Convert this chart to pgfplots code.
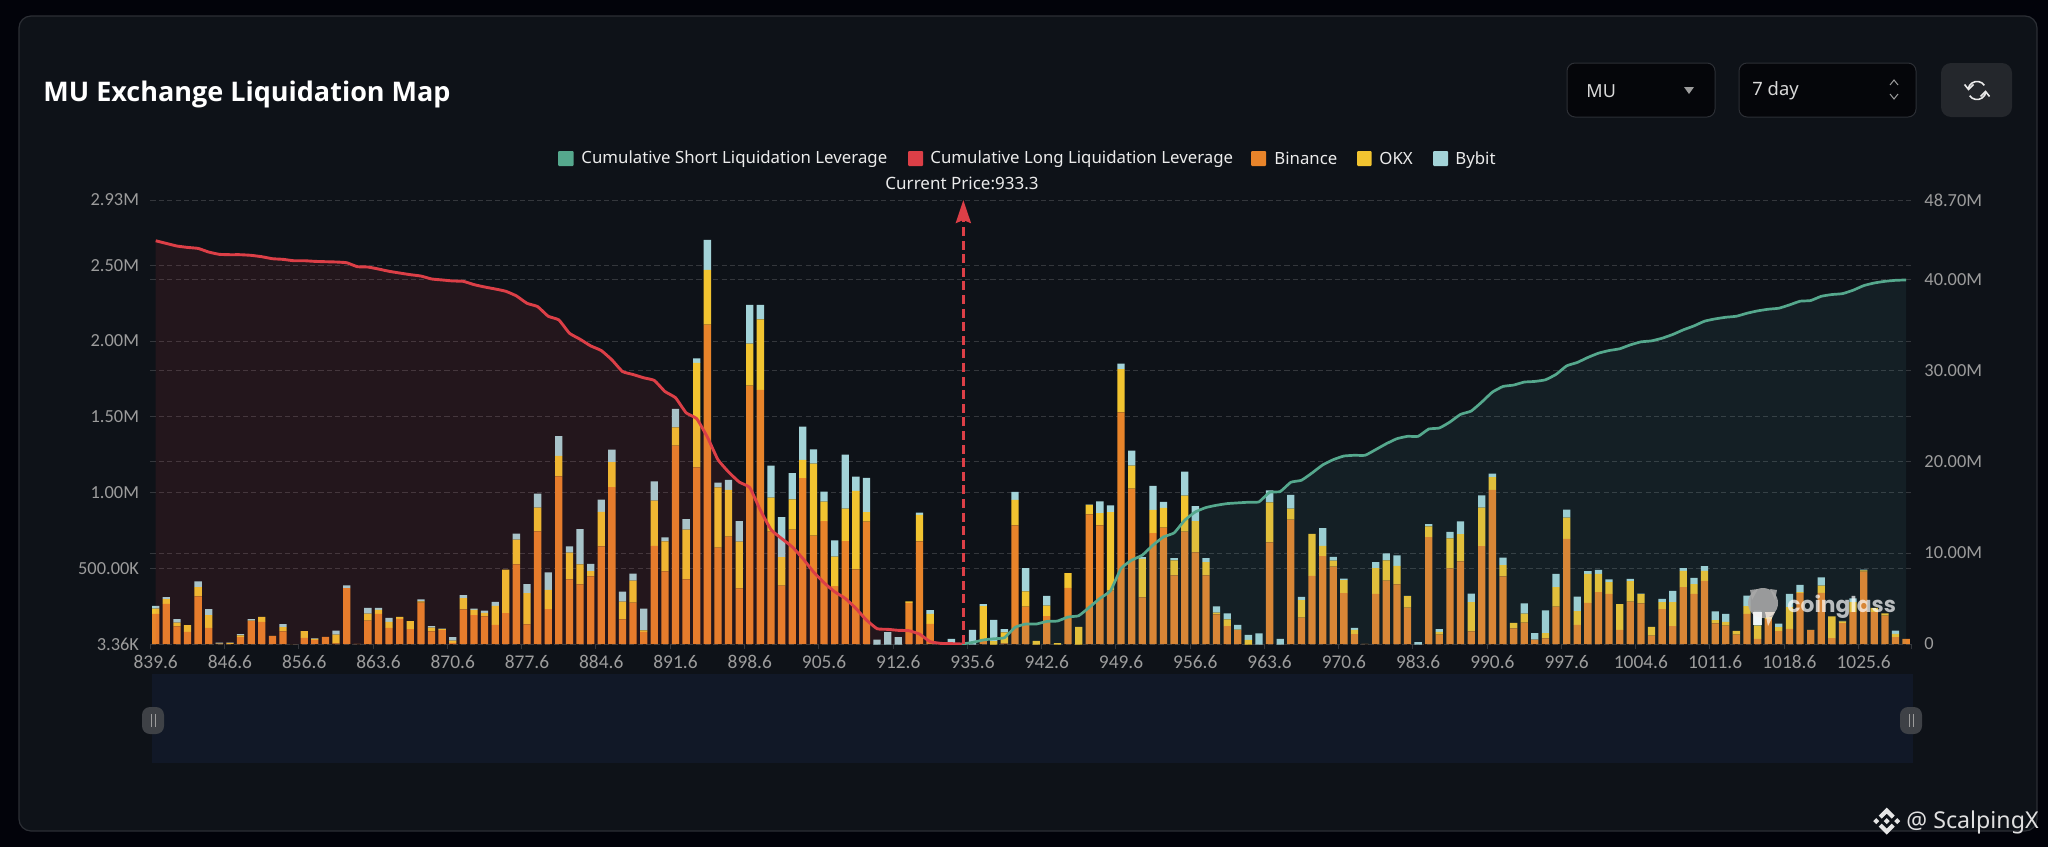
\documentclass[border=0pt]{standalone}
\usepackage{fontspec}
\usepackage{pgfplots}
\usepackage{pgfplotstable}
\pgfplotsset{compat=1.18}
\usetikzlibrary{arrows.meta}
\setmainfont{Noto Sans}
\newfontfamily\tickfont{Carlito}
\newfontfamily\wmfont{Poppins}
\newfontfamily\titlefont{Open Sans}
\definecolor{pagebg}{HTML}{02030A}
\definecolor{cardbg}{HTML}{0E1218}
\definecolor{cardln}{HTML}{2C2F35}
\definecolor{gridc}{HTML}{34373C}
\definecolor{tickc}{HTML}{9C9C9C}
\definecolor{binc}{HTML}{E8842A}
\definecolor{okxc}{HTML}{F2C430}
\definecolor{bybc}{HTML}{A3D3D8}
\definecolor{longc}{HTML}{DC3F47}
\definecolor{shortc}{HTML}{55A88D}
\definecolor{shortarea}{HTML}{4C9AA0}
\definecolor{sliderc}{HTML}{111827}
\definecolor{boxc}{HTML}{05060A}
\definecolor{btnc}{HTML}{24272C}

% values in thousands, per exchange
\pgfplotstableread{
i b o y
0 202 35 18
1 268 31 13
2 119 26 22
3 84 44 0
4 317 62 37
5 110 84 40
6 4 2 7
7 4 7 2
8 48 13 7
9 154 4 9
10 150 33 0
11 55 2 0
12 86 29 20
13 2 0 0
14 44 44 0
15 31 7 2
16 51 0 0
17 7 59 26
18 372 0 18
19 4 0 0
20 158 46 37
21 202 26 13
22 110 40 26
23 169 13 0
24 101 53 0
25 277 7 13
26 86 26 9
27 95 7 2
28 11 15 22
29 231 75 20
30 194 35 7
31 185 24 15
32 130 125 26
33 207 286 0
34 528 163 40
35 132 207 59
36 746 156 92
37 233 128 114
38 1109 134 130
39 429 176 42
40 396 132 233
41 449 35 48
42 647 227 81
43 1038 165 81
44 165 117 66
45 277 145 46
46 84 9 143
47 651 297 128
48 482 198 26
49 1311 121 121
50 429 328 70
51 1168 689 29
52 2108 361 198
53 638 398 31
54 711 308 66
55 370 308 136
56 1707 277 255
57 1679 464 95
58 744 224 211
59 389 187 264
60 757 200 172
61 1096 121 220
62 717 475 95
63 814 128 66
64 385 194 108
65 682 213 356
66 495 517 95
67 810 62 227
68 0 0 33
69 0 0 81
70 0 0 48
71 275 9 0
72 680 174 15
73 136 66 24
74 0 0 0
75 0 0 37
76 0 0 0
77 0 0 97
78 26 227 13
79 0 22 141
80 7 73 22
81 785 169 53
82 249 101 154
83 0 24 0
84 187 70 64
85 0 9 0
86 374 97 0
87 0 117 0
88 858 62 2
89 785 81 77
90 356 517 44
91 1531 284 37
92 1027 152 99
93 310 255 11
94 735 152 158
95 770 130 40
96 455 99 15
97 744 238 158
98 607 207 99
99 455 88 26
100 198 13 40
101 121 44 40
102 95 4 31
103 0 31 33
104 0 0 73
105 673 264 79
106 0 0 37
107 823 73 90
108 178 114 22
109 453 277 0
110 583 68 117
111 513 40 24
112 339 86 9
113 68 29 13
114 4 0 0
115 334 169 40
116 422 132 46
117 396 123 68
118 244 75 2
119 0 0 15
120 708 70 15
121 66 18 18
122 502 198 42
123 548 180 84
124 86 194 55
125 649 253 81
126 1019 84 24
127 449 75 48
128 106 37 0
129 145 59 68
130 33 0 42
131 40 35 150
132 249 130 86
133 697 139 53
134 130 90 95
135 275 191 18
136 345 121 26
137 334 77 18
138 97 169 0
139 282 136 15
140 271 62 2
141 59 57 0
142 233 46 22
143 121 158 75
144 378 108 18
145 334 64 42
146 420 66 31
147 139 22 57
148 125 24 53
149 66 24 0
150 202 51 70
151 37 88 99
152 169 11 0
153 88 26 24
154 103 143 88
155 339 7 48
156 95 2 0
157 341 48 53
158 42 143 0
159 141 11 4
160 213 66 26
161 480 9 4
162 213 29 0
163 191 15 0
164 48 22 22
165 37 0 0
}\barsdata

% cumulative long leverage, millions
\pgfplotstableread{
i v
0 44.23
1 43.94
2 43.65
3 43.50
4 43.39
5 42.99
6 42.74
7 42.70
8 42.70
9 42.63
10 42.48
11 42.26
12 42.19
13 42.04
14 42.04
15 41.97
16 41.93
17 41.90
18 41.82
19 41.39
20 41.35
21 41.13
22 40.88
23 40.69
24 40.51
25 40.36
26 40.04
27 39.93
28 39.82
29 39.78
30 39.42
31 39.16
32 38.94
33 38.69
34 38.18
35 37.37
36 37.01
37 35.95
38 35.55
39 34.09
40 33.43
41 32.70
42 32.19
43 31.17
44 29.89
45 29.56
46 29.20
47 28.91
48 27.70
49 27.01
50 25.36
51 24.71
52 22.70
53 20.22
54 18.87
55 17.77
56 17.15
57 14.67
58 12.55
59 11.57
60 10.66
61 9.38
62 7.92
63 6.72
64 5.73
65 5.00
66 3.91
67 2.63
68 1.68
69 1.61
70 1.50
71 1.46
72 1.09
73 0.26
74 0.07
75 0.04
76 0
}\longdata

% cumulative short leverage, millions
\pgfplotstableread{
i v
76 0
77 0.18
78 0.44
79 0.58
80 0.69
81 1.83
82 2.19
83 2.19
84 2.48
85 2.52
86 2.96
87 3.10
88 4.02
89 5.00
90 5.84
91 8.29
92 9.20
93 9.75
94 10.84
95 11.75
96 12.19
97 13.58
98 14.49
99 14.97
100 15.22
101 15.40
102 15.48
103 15.55
104 15.59
105 16.64
106 16.72
107 17.74
108 17.96
109 18.76
110 19.64
111 20.22
112 20.62
113 20.70
114 20.70
115 21.32
116 21.97
117 22.52
118 22.78
119 22.78
120 23.58
121 23.69
122 24.35
123 25.19
124 25.55
125 26.54
126 27.63
127 28.25
128 28.40
129 28.73
130 28.80
131 28.98
132 29.57
133 30.51
134 30.88
135 31.43
136 31.90
137 32.19
138 32.38
139 32.81
140 33.14
141 33.25
142 33.54
143 33.95
144 34.46
145 34.89
146 35.41
147 35.66
148 35.84
149 35.95
150 36.28
151 36.54
152 36.72
153 36.83
154 37.19
155 37.60
156 37.67
157 38.14
158 38.33
159 38.43
160 38.80
161 39.31
162 39.60
163 39.78
164 39.89
165 39.93
}\shortdata

\begin{document}
\begin{tikzpicture}
\begin{scope}[x=.5pt,y=-.5pt]
  \path[use as bounding box,fill=pagebg] (0,0) rectangle (2048,847);
  \draw[cardln,fill=cardbg,line width=.6pt,rounded corners=6pt] (19,16) rectangle (2037,831);
  % title
  \node[anchor=west,inner sep=0,white,font=\titlefont\fontsize{13.5}{16}\selectfont\bfseries] at (43,94.5) {MU Exchange Liquidation Map};
  % controls
  \draw[cardln,fill=boxc,line width=.5pt,rounded corners=4pt] (1567,63) rectangle (1715,117);
  \node[anchor=west,inner sep=0,white!85!black,font=\fontsize{9}{10}\selectfont] at (1586,91) {MU};
  \fill[tickc] (1684,87) -- (1694,87) -- (1689,94) -- cycle;
  \draw[cardln,fill=boxc,line width=.5pt,rounded corners=4pt] (1739,63) rectangle (1916,117);
  \node[anchor=west,inner sep=0,white!85!black,font=\fontsize{9.2}{10}\selectfont] at (1752,91) {7 day};
  \draw[tickc,line width=.5pt] (1890,85) -- (1894,80) -- (1898,85);
  \draw[tickc,line width=.5pt] (1890,94) -- (1894,99) -- (1898,94);
  \fill[btnc,rounded corners=5pt] (1941,63) rectangle (2012,117);
  \draw[white!92!black,line width=.8pt] (1984.4,85.3) arc[start angle=-35,end angle=-170,radius=9];
  \draw[white!92!black,line width=.8pt] (1964.5,84.5) -- (1968.5,89.5) -- (1973.5,84.5);
  \draw[white!92!black,line width=.8pt] (1969.6,95.7) arc[start angle=145,end angle=10,radius=9];
  \draw[white!92!black,line width=.8pt] (1980.5,96.5) -- (1985.5,91.5) -- (1989.5,96.5);
  % legend
  \def\lgfont{\fontsize{8.4}{10}\selectfont}
  \fill[shortc,rounded corners=.5pt] (558,151) rectangle (573.5,166);
  \node[anchor=west,inner sep=0,white!92!black,font=\lgfont] at (581,159) {Cumulative Short Liquidation Leverage};
  \fill[longc,rounded corners=.5pt] (908,151) rectangle (923,166);
  \node[anchor=west,inner sep=0,white!92!black,font=\lgfont] at (930,159) {Cumulative Long Liquidation Leverage};
  \fill[binc,rounded corners=.5pt] (1251,151) rectangle (1266,166);
  \node[anchor=base west,inner sep=0,white!92!black,font=\lgfont] at (1274,164) {Binance};
  \fill[okxc,rounded corners=.5pt] (1357,151) rectangle (1371.5,166);
  \node[anchor=base west,inner sep=0,white!92!black,font=\lgfont] at (1379,164) {OKX};
  \fill[bybc,rounded corners=.5pt] (1433,151) rectangle (1448,166);
  \node[anchor=base west,inner sep=0,white!92!black,font=\lgfont] at (1455,164) {Bybit};
  \node[inner sep=0,white!92!black,font=\fontsize{8.5}{10}\selectfont] at (962,183) {Current Price:933.3};
  % slider
  \fill[sliderc] (152,674) rectangle (1913,763);
\end{scope}

\begin{axis}[
  name=bars, scale only axis, width=880.5pt, height=222pt,
  at={(75.2pt,-322pt)}, anchor=south west,
  xmin=-0.5, xmax=165.5, ymin=3.36, ymax=2930,
  ybar stacked, bar width=3.65pt,
  axis x line*=bottom, axis y line*=left,
  axis line style={draw=none},
  tick align=outside, major tick length=0pt,
  tick style={draw=gridc,line width=.5pt},
  xtick={0,7,14,21,28,35,42,49,56,63,70,77,84,91,98,105,112,119,126,133,140,147,154,161},
  xticklabels={839.6,846.6,856.6,863.6,870.6,877.6,884.6,891.6,898.6,905.6,912.6,935.6,942.6,949.6,956.6,963.6,970.6,983.6,990.6,997.6,1004.6,1011.6,1018.6,1025.6},
  extra x ticks={-0.5,6.5,13.5,20.5,27.5,34.5,41.5,48.5,55.5,62.5,69.5,76.5,83.5,90.5,97.5,104.5,111.5,118.5,125.5,132.5,139.5,146.5,153.5,160.5,165.5},
  extra x tick labels={},
  extra x tick style={major tick length=2.5pt,xmajorgrids=false},
  ytick={3.36,500,1000,1500,2000,2500,2930},
  yticklabels={3.36K,500.00K,1.00M,1.50M,2.00M,2.50M,2.93M},
  extra y ticks={601.6,1203.3,1805,2406.6},
  extra y tick labels={},
  extra y tick style={major tick length=0pt},
  ymajorgrids,
  major grid style={draw=gridc,line width=.5pt,dash pattern=on 2.6pt off 1.6pt},
  every tick label/.append style={tickc,font=\tickfont\fontsize{9.2}{11}\selectfont},
  /pgf/number format/assume math mode=true,
  xticklabel style={inner sep=0pt,yshift=-5.5pt,font=\tickfont\fontsize{9.7}{11}\selectfont},
  yticklabel style={inner sep=0pt,xshift=-5.5pt},
]
\addplot+[draw=none,fill=binc,mark=none] table[x=i,y=b] {\barsdata};
\addplot+[draw=none,fill=okxc,mark=none] table[x=i,y=o] {\barsdata};
\addplot+[draw=none,fill=bybc,mark=none] table[x=i,y=y] {\barsdata};
\end{axis}

\begin{axis}[
  scale only axis, width=880.5pt, height=222pt,
  at={(75.2pt,-322pt)}, anchor=south west,
  xmin=-0.5, xmax=165.5, ymin=0, ymax=48.7,
  axis x line=none, axis y line*=right,
  axis line style={draw=none},
  major tick length=0pt,
  xtick=\empty,
  ytick={0,10,20,30,40,48.7},
  yticklabels={0,10.00M,20.00M,30.00M,40.00M,48.70M},
  every tick label/.append style={tickc,font=\tickfont\fontsize{9.2}{11}\selectfont},
  /pgf/number format/assume math mode=true,
  yticklabel style={inner sep=0pt,anchor=west,xshift=6.3pt},
]
\addplot[draw=none,fill=longc,fill opacity=.1,smooth,tension=.25] table[x=i,y=v] {\longdata} \closedcycle;
\addplot[draw=none,fill=shortarea,fill opacity=.1,smooth,tension=.25] table[x=i,y=v] {\shortdata} \closedcycle;
\addplot[longc,line width=1.45pt,smooth,tension=.25] table[x=i,y=v] {\longdata};
\addplot[shortc,line width=1.35pt,smooth,tension=.25] table[x=i,y=v] {\shortdata};
\addplot[longc,line width=1.5pt,dash pattern=on 4.5pt off 2.3pt,
  -{Stealth[length=11.5pt,width=7.5pt,inset=1.5pt]}] coordinates {(76.13,0) (76.13,48.7)};
\end{axis}

\begin{scope}[x=.5pt,y=-.5pt]
  % slider handles
  \foreach \hx in {153,1911}{
    \fill[white!20!cardbg,rounded corners=4pt] (\hx-11,707) rectangle (\hx+11,734);
    \draw[tickc,line width=.4pt] (\hx-2,714) -- (\hx-2,727) (\hx+2,714) -- (\hx+2,727);
  }
  % coinglass watermark
  \fill[white!66!black,opacity=.9] (1763,603) circle[radius=15];
  \fill[white!66!black,opacity=.9] (1750,590) -- (1758,589) -- (1752,600) -- cycle (1777,590) -- (1770,589) -- (1775,600) -- cycle;
  \fill[white,opacity=.85] (1753,612) rectangle (1762,625);
  \fill[white!90!orange,opacity=.75] (1765,612) -- (1775,612) -- (1768,626) -- cycle;
  \node[anchor=west,inner sep=0,white,opacity=.7,font=\wmfont\fontsize{10.9}{14}\selectfont\bfseries] at (1787,607) {coinglass};
  % Binance mark + handle
  \begin{scope}[shift={(1886.7,821)}]
    \fill[white!90!black] (0,-13.5) -- (8,-5.5) -- (5,-2.5) -- (0,-7.5) -- (-5,-2.5) -- (-8,-5.5) -- cycle;
    \fill[white!90!black] (0,13.5) -- (8,5.5) -- (5,2.5) -- (0,7.5) -- (-5,2.5) -- (-8,5.5) -- cycle;
    \fill[white!90!black] (-3,0) -- (0,-3) -- (3,0) -- (0,3) -- cycle;
    \fill[white!90!black] (-13.5,0) -- (-10.5,-3) -- (-7.5,0) -- (-10.5,3) -- cycle;
    \fill[white!90!black] (13.5,0) -- (10.5,-3) -- (7.5,0) -- (10.5,3) -- cycle;
  \end{scope}
  \node[anchor=west,inner sep=0,white!88!black,font=\fontsize{11.6}{14}\selectfont] at (1906,822) {@ ScalpingX};
\end{scope}
\end{tikzpicture}
\end{document}
